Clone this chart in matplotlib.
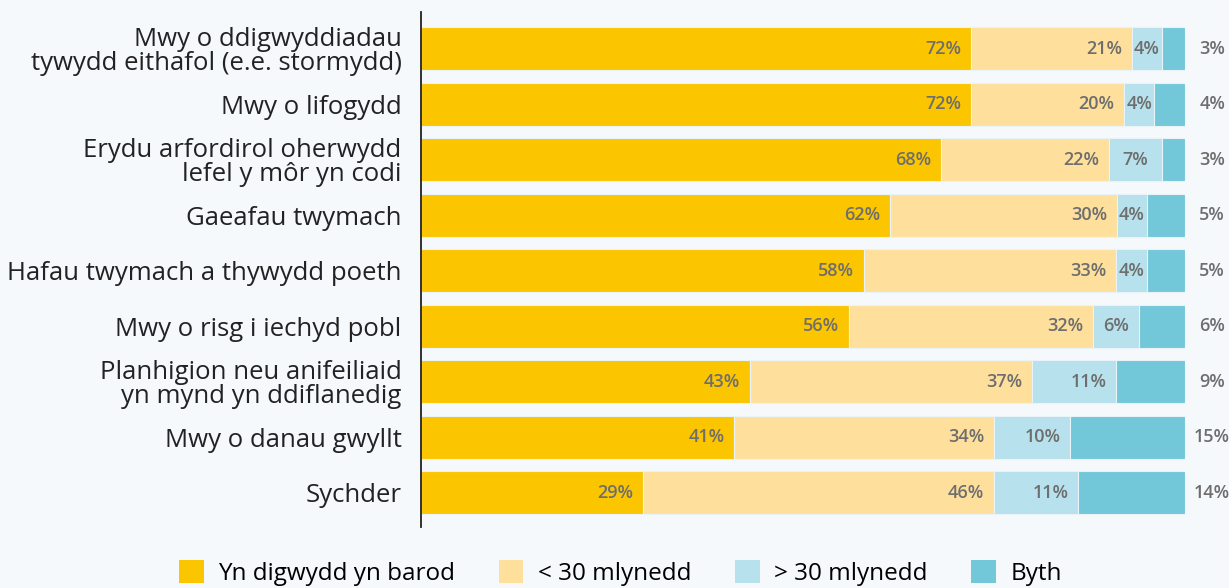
import numpy as np
import matplotlib
matplotlib.use("Agg")
import matplotlib.pyplot as plt
from matplotlib.patches import Patch

categories = [
    "Mwy o ddigwyddiadau\ntywydd eithafol (e.e. stormydd)",
    "Mwy o lifogydd",
    "Erydu arfordirol oherwydd\nlefel y môr yn codi",
    "Gaeafau twymach",
    "Hafau twymach a thywydd poeth",
    "Mwy o risg i iechyd pobl",
    "Planhigion neu anifeiliaid\nyn mynd yn ddiflanedig",
    "Mwy o danau gwyllt",
    "Sychder",
]
series_names = ["Yn digwydd yn barod", "< 30 mlynedd", "> 30 mlynedd", "Byth"]
already = [72, 72, 68, 62, 58, 56, 43, 41, 29]
under30 = [21, 20, 22, 30, 33, 32, 37, 34, 46]
over30 = [4, 4, 7, 4, 4, 6, 11, 10, 11]
never = [3, 4, 3, 5, 5, 6, 9, 15, 14]

colors = ["#FBC500", "#FEE09C", "#B7E1EC", "#72C7D9"]
bg = "#F5F9FC"
label_color = "#6E6E6E"

plt.rcParams['font.family'] = ['Open Sans', 'DejaVu Sans']

fig = plt.figure(figsize=(12.29, 5.88), dpi=100, facecolor=bg)
ax = fig.add_axes([421 / 1229, 1 - 527 / 588, 764 / 1229, 515 / 588])
ax.set_facecolor(bg)

data = np.array([already, under30, over30, never], dtype=float)
totals = data.sum(axis=0)
shares = data / totals * 100
y = np.arange(len(categories))

left = np.zeros(len(categories))
for i in range(4):
    ax.barh(y, shares[i], left=left, height=0.775, color=colors[i],
            edgecolor="#EAF3F7", linewidth=0.8, label=series_names[i])
    for j in range(len(categories)):
        val = int(data[i, j])
        end = left[j] + shares[i, j]
        if i == 3:
            ax.annotate(f"{val}%", (100, y[j]), xytext=(19.5, 0), textcoords="offset points",
                        ha="center", va="center", fontsize=13, fontweight="semibold",
                        color=label_color)
        elif val < 8:
            ax.text(left[j] + shares[i, j] / 2, y[j], f"{val}%", ha="center", va="center",
                    fontsize=13, fontweight="semibold", color=label_color)
        else:
            ax.annotate(f"{val}%", (end, y[j]), xytext=(-7, 0), textcoords="offset points",
                        ha="right", va="center", fontsize=13, fontweight="semibold",
                        color=label_color)
    left += shares[i]

ax.set_xlim(0, 100)
ax.set_ylim(8.62, -0.66)
ax.set_yticks(y)
ax.set_yticklabels(categories, fontsize=18.5, color="#222222", linespacing=0.95)
ax.tick_params(axis="y", length=0, pad=14)
ax.set_xticks([])
for s in ["top", "right", "bottom"]:
    ax.spines[s].set_visible(False)
ax.spines["left"].set_color("#222222")
ax.spines["left"].set_linewidth(1.3)

handles = [Patch(facecolor=c, edgecolor="none") for c in colors]
fig.legend(handles, series_names, loc="center", bbox_to_anchor=(0.505, 0.026), ncol=4,
           frameon=False, fontsize=17.5, handlelength=1.0, handleheight=1.1,
           handletextpad=0.6, columnspacing=1.8)

fig.savefig("out.png", dpi=100, facecolor=bg)
